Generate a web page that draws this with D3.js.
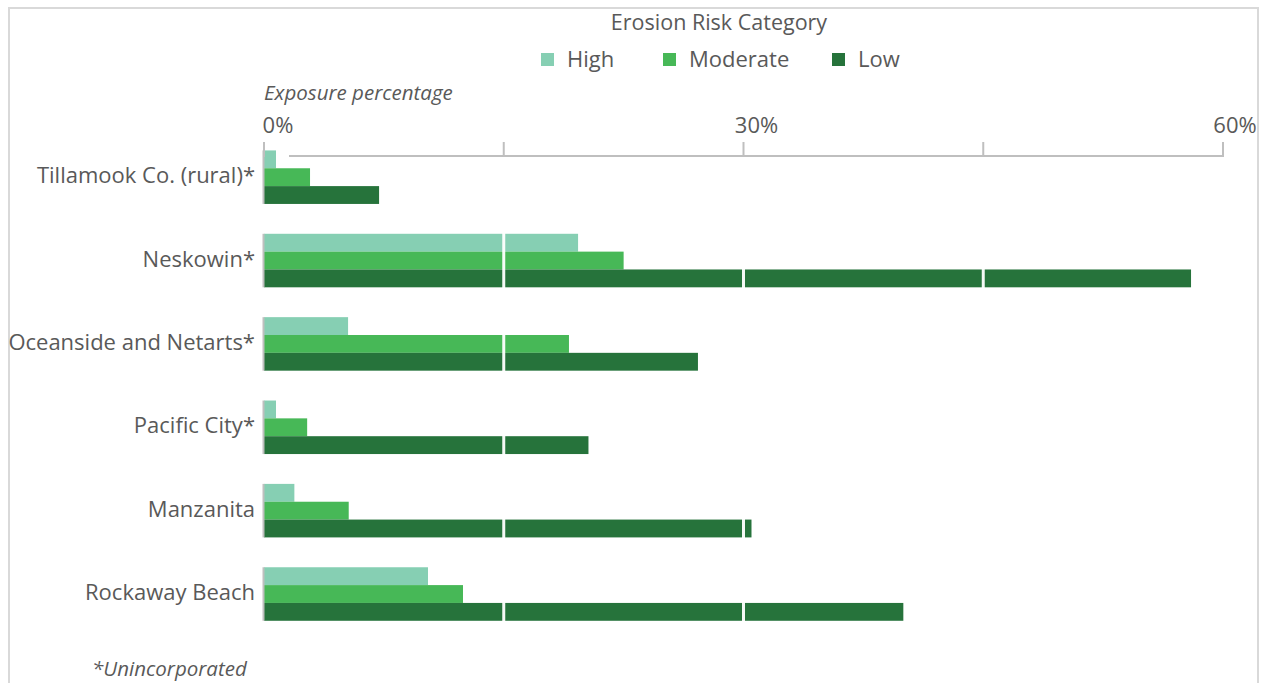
<!DOCTYPE html>
<html><head><meta charset="utf-8">
<script src="https://cdn.jsdelivr.net/npm/d3@7"></script>
<style>
html,body{margin:0;padding:0;background:#fff;}
svg{display:block;font-family:"Open Sans","Noto Sans",sans-serif;}
</style></head>
<body><svg id="c" width="1265" height="683"></svg>
<script>
const categories = ["Tillamook Co. (rural)*","Neskowin*","Oceanside and Netarts*","Pacific City*","Manzanita","Rockaway Beach"];
const seriesNames = ["High","Moderate","Low"];
const highValues = [0.75, 19.65, 5.26, 0.75, 1.9, 10.26];
const moderateValues = [2.88, 22.5, 19.08, 2.7, 5.3, 12.45];
const lowValues = [7.2, 58.0, 27.15, 20.3, 30.5, 40.0];
const tickValues = [0, 15, 30, 45, 60];
const tickLabels = ["0%", "", "30%", "", "60%"];
const colors = ["#86cfb3", "#47b857", "#26733b"];

const svg = d3.select("#c");
const x = d3.scaleLinear().domain([0, 60]).range([264, 1223]);
const y = d3.scaleBand().domain(categories).range([135.5, 635.7]).paddingInner(0.358).paddingOuter(0.179);
const ys = d3.scaleBand().domain(seriesNames).range([0, y.bandwidth()]);
const series = [highValues, moderateValues, lowValues];

// border
svg.append("rect").attr("x", 9).attr("y", 8).attr("width", 1249).attr("height", 700)
  .attr("fill", "none").attr("stroke", "#d9d9d9").attr("stroke-width", 2);

// title + legend
svg.append("text").attr("x", 719).attr("y", 30).attr("text-anchor", "middle")
  .attr("font-size", 21.5).attr("fill", "#595959").text("Erosion Risk Category");
const legendX = [541, 663, 832];
seriesNames.forEach((s, i) => {
  svg.append("rect").attr("x", legendX[i]).attr("y", 53).attr("width", 13).attr("height", 13).attr("fill", colors[i]);
  svg.append("text").attr("x", legendX[i] + 26).attr("y", 67).attr("font-size", 22).attr("fill", "#595959").text(s);
});

svg.append("text").attr("x", 264).attr("y", 100).attr("font-size", 20.5).attr("font-style", "italic")
  .attr("fill", "#595959").text("Exposure percentage");

// faint gridlines behind
svg.append("g").selectAll("line").data(tickValues.slice(1, 4)).join("line")
  .attr("x1", d => x(d)).attr("x2", d => x(d)).attr("y1", 156).attr("y2", 683)
  .attr("stroke", "#f2f2f2").attr("stroke-width", 1);

// bars
const g = svg.append("g");
categories.forEach((c, ci) => {
  series.forEach((vals, si) => {
    g.append("rect").attr("x", x(0)).attr("y", y(c) + ys(seriesNames[si]))
      .attr("width", x(vals[ci]) - x(0)).attr("height", ys.bandwidth()).attr("fill", colors[si]);
  });
  g.append("line").attr("x1", x(0) - 0.5).attr("x2", x(0) - 0.5).attr("y1", y(c)).attr("y2", y(c) + y.bandwidth())
    .attr("stroke", "#bfbfbf").attr("stroke-width", 2);
});

// white gridlines over bars
svg.append("g").selectAll("line").data(tickValues.slice(1, 4)).join("line")
  .attr("x1", d => x(d)).attr("x2", d => x(d)).attr("y1", 157).attr("y2", 683)
  .attr("stroke", "#ffffff").attr("stroke-opacity", 0.95).attr("stroke-width", 3);

// top axis
svg.append("line").attr("x1", 289).attr("x2", x(60)).attr("y1", 156).attr("y2", 156)
  .attr("stroke", "#bfbfbf").attr("stroke-width", 2);
svg.append("g").selectAll("line").data(tickValues).join("line")
  .attr("x1", d => x(d)).attr("x2", d => x(d)).attr("y1", 142).attr("y2", 157)
  .attr("stroke", "#bfbfbf").attr("stroke-width", 2);
const labelX = d3.scaleLinear().domain([0, 60]).range([278, 1235]);
svg.append("g").selectAll("text").data(tickValues.filter((d, i) => tickLabels[i])).join("text")
  .attr("x", d => labelX(d)).attr("y", 133).attr("text-anchor", "middle")
  .attr("font-size", 22).attr("fill", "#595959")
  .text(d => tickLabels[tickValues.indexOf(d)]);

// category labels
svg.append("g").selectAll("text").data(categories).join("text")
  .attr("x", 255).attr("y", d => y(d) + y.bandwidth() / 2 + 6).attr("text-anchor", "end")
  .attr("font-size", 22).attr("fill", "#595959").text(d => d);

svg.append("text").attr("x", 92).attr("y", 676).attr("font-size", 20.5).attr("font-style", "italic")
  .attr("fill", "#595959").text("*Unincorporated");
</script></body></html>
